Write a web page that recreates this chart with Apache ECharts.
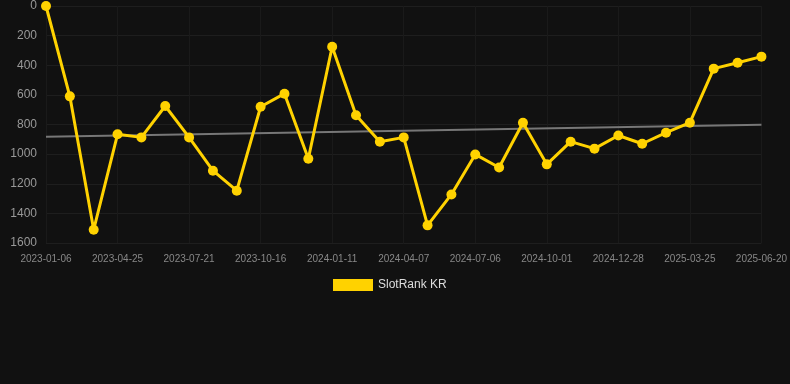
<!DOCTYPE html>
<html>
<head>
<meta charset="utf-8">
<script src="https://cdn.jsdelivr.net/npm/echarts@6/dist/echarts.min.js"></script>
<style>
  html, body { margin: 0; padding: 0; background: #111111; }
  #chart { width: 790px; height: 384px; }
</style>
</head>
<body>
<div id="chart"></div>
<script>
// rank dates (only every third one is shown as a label)
const dates = [
  '2023-01-06', '2023-02-11', '2023-03-19', '2023-04-25', '2023-05-24', '2023-06-22',
  '2023-07-21', '2023-08-19', '2023-09-17', '2023-10-16', '2023-11-14', '2023-12-13',
  '2024-01-11', '2024-02-09', '2024-03-09', '2024-04-07', '2024-05-07', '2024-06-06',
  '2024-07-06', '2024-08-04', '2024-09-02', '2024-10-01', '2024-10-30', '2024-11-28',
  '2024-12-28', '2025-01-26', '2025-02-24', '2025-03-25', '2025-04-23', '2025-05-22',
  '2025-06-20'
];

const slotRank = [
  0, 610, 1510, 866, 887, 675, 887, 1112, 1247, 680, 592, 1031,
  275, 738, 916, 887, 1481, 1272, 1002, 1090, 788, 1069, 916, 963,
  874, 930, 855, 788, 423, 383, 342
];

// trend line: start and end values only
const trendStart = 882;
const trendEnd = 801;
const trend = dates.map((d, i) =>
  i === 0 ? trendStart : i === dates.length - 1 ? trendEnd : null
);

const chart = echarts.init(document.getElementById('chart'));

chart.setOption({
  backgroundColor: '#111111',
  animation: false,
  grid: { left: 46, right: 28, top: 6, bottom: 141 },
  legend: {
    data: [{ name: 'SlotRank KR', icon: 'rect' }],
    top: 274,
    left: 328,
    itemWidth: 40,
    itemHeight: 12,
    itemGap: 10,
    textStyle: { color: '#dddddd', fontSize: 12, fontFamily: 'Arial, Liberation Sans, sans-serif' },
  },
  xAxis: {
    type: 'category',
    data: dates,
    boundaryGap: false,
    axisLine: { show: false },
    axisTick: { show: false },
    axisLabel: {
      interval: 2,
      color: '#888888',
      fontSize: 10,
      margin: 11,
      fontFamily: 'Arial, Liberation Sans, sans-serif',
    },
    splitLine: { show: true, interval: 2, lineStyle: { color: '#1a1a1a', width: 1 } },
  },
  yAxis: {
    type: 'value',
    inverse: true,
    min: 0,
    max: 1600,
    interval: 200,
    axisLine: { show: false },
    axisTick: { show: false },
    axisLabel: {
      color: '#999999',
      fontSize: 12,
      margin: 9,
      formatter: (v) => String(v),
      fontFamily: 'Arial, Liberation Sans, sans-serif',
    },
    splitLine: { lineStyle: { color: '#1e1e1e', width: 1 } },
  },
  series: [
    {
      name: 'trend',
      type: 'line',
      data: trend,
      connectNulls: true,
      symbol: 'none',
      silent: true,
      lineStyle: { color: '#777777', width: 2 },
      z: 1,
    },
    {
      name: 'SlotRank KR',
      type: 'line',
      data: slotRank,
      symbol: 'circle',
      symbolSize: 10,
      itemStyle: { color: '#ffd200' },
      lineStyle: { color: '#ffd200', width: 3 },
      z: 2,
    },
  ],
});
</script>
</body>
</html>
